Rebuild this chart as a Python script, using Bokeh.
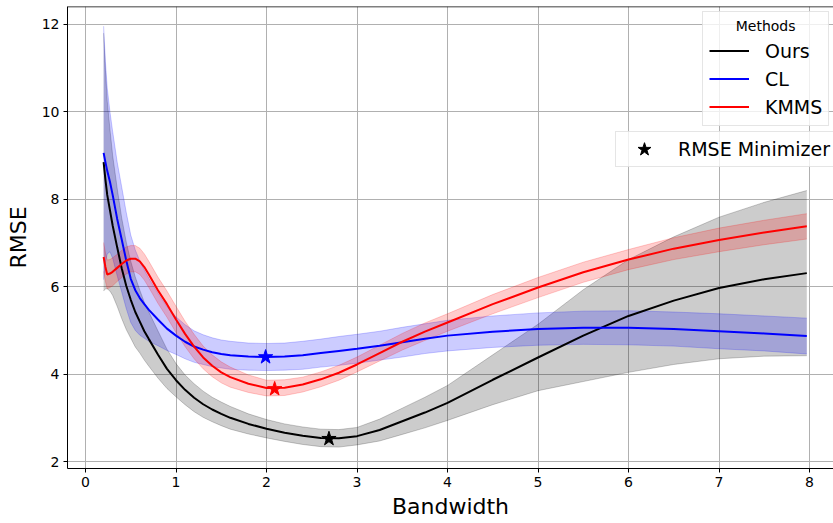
from bokeh.plotting import figure
from bokeh.models import Legend, LegendItem, Range1d, Span, FixedTicker
from bokeh.embed import file_html
from bokeh.resources import INLINE
import numpy as np

# ---------------- data ----------------
bandwidth = [0.2, 0.22, 0.24, 0.27, 0.3, 0.35, 0.4, 0.45, 0.5, 0.55, 0.6, 0.65, 0.7, 0.8, 0.9,
             1.0, 1.1, 1.2, 1.3, 1.4, 1.5, 1.6, 1.8, 2.0, 2.2, 2.4, 2.6, 2.8, 3.0, 3.25, 3.5,
             3.75, 4.0, 4.5, 5.0, 5.5, 6.0, 6.5, 7.0, 7.5, 7.97]

ours_mean = [8.85, 8.45, 8.1, 7.75, 7.4, 6.9, 6.42, 6.02, 5.7, 5.42, 5.2, 4.98, 4.8, 4.45, 4.12,
             3.86, 3.64, 3.46, 3.31, 3.19, 3.09, 3.0, 2.86, 2.75, 2.66, 2.59, 2.54, 2.53, 2.58, 2.72, 2.92,
             3.12, 3.34, 3.87, 4.38, 4.88, 5.33, 5.68, 5.97, 6.17, 6.31]
ours_std = [2.95, 2.5, 2.15, 1.85, 1.6, 1.35, 1.15, 1.0, 0.88, 0.8, 0.72, 0.66, 0.62, 0.54, 0.45,
            0.38, 0.34, 0.32, 0.3, 0.28, 0.27, 0.26, 0.23, 0.21, 0.2, 0.2, 0.2, 0.2, 0.2, 0.25, 0.3,
            0.35, 0.4, 0.57, 0.76, 1.05, 1.29, 1.46, 1.62, 1.76, 1.89]

cl_mean = [9.06, 8.85, 8.65, 8.4, 8.1, 7.55, 7.08, 6.6, 6.18, 5.92, 5.74, 5.6, 5.47, 5.25, 5.04,
           4.88, 4.74, 4.63, 4.56, 4.5, 4.46, 4.43, 4.4, 4.39, 4.4, 4.43, 4.48, 4.53, 4.58, 4.65, 4.73,
           4.81, 4.88, 4.97, 5.03, 5.06, 5.06, 5.03, 4.98, 4.93, 4.87]
cl_std = [2.9, 2.3, 1.9, 1.6, 1.45, 1.3, 1.2, 1.1, 1.0, 0.92, 0.85, 0.78, 0.72, 0.6, 0.5,
          0.43, 0.39, 0.36, 0.34, 0.33, 0.32, 0.32, 0.31, 0.31, 0.31, 0.32, 0.32, 0.33, 0.33, 0.33, 0.34,
          0.34, 0.35, 0.36, 0.37, 0.38, 0.39, 0.39, 0.4, 0.4, 0.41]

kmms_mean = [6.68, 6.45, 6.28, 6.3, 6.34, 6.43, 6.52, 6.6, 6.64, 6.64, 6.58, 6.45, 6.28, 5.92, 5.6,
             5.25, 4.92, 4.63, 4.38, 4.19, 4.04, 3.93, 3.78, 3.68, 3.69, 3.76, 3.88, 4.03, 4.22, 4.48, 4.74,
             4.97, 5.18, 5.6, 5.98, 6.33, 6.62, 6.87, 7.07, 7.24, 7.38]
kmms_std = [0.33, 0.33, 0.33, 0.32, 0.32, 0.31, 0.31, 0.31, 0.3, 0.3, 0.3, 0.3, 0.3, 0.3, 0.3,
            0.3, 0.29, 0.28, 0.26, 0.25, 0.24, 0.23, 0.2, 0.18, 0.18, 0.17, 0.17, 0.17, 0.17, 0.18, 0.19,
            0.2, 0.2, 0.22, 0.23, 0.23, 0.23, 0.25, 0.27, 0.28, 0.29]

min_bandwidth = [2.69, 1.99, 2.09]
min_rmse = [2.52, 4.39, 3.66]

method_names = ["Ours", "CL", "KMMS"]
method_colors = ["black", "blue", "red"]
x_ticks = [0, 1, 2, 3, 4, 5, 6, 7, 8]
y_ticks = [2, 4, 6, 8, 10, 12]

# ---------------- figure ----------------
FONT = "DejaVu Sans"
p = figure(width=833, height=523, output_backend="svg", toolbar_location=None,
           x_range=Range1d(-0.199, 8.265), y_range=Range1d(1.84, 12.41),
           min_border_left=67, min_border_right=0, min_border_top=6, min_border_bottom=55)
p.outline_line_color = None
p.background_fill_color = "white"
p.border_fill_color = "white"

for ax in (p.xaxis[0], p.yaxis[0]):
    ax.axis_line_color = "black"
    ax.axis_line_width = 1
    ax.major_tick_line_color = "black"
    ax.major_tick_out = 4
    ax.major_tick_in = 0
    ax.minor_tick_line_color = None
    ax.major_label_text_font = FONT
    ax.major_label_text_font_size = "14px"
    ax.major_label_text_color = "black"
    ax.axis_label_text_font = FONT
    ax.axis_label_text_font_size = "22px"
    ax.axis_label_text_font_style = "normal"
    ax.axis_label_text_color = "black"
    ax.major_label_standoff = 4

p.xaxis[0].ticker = FixedTicker(ticks=x_ticks)
p.yaxis[0].ticker = FixedTicker(ticks=y_ticks)
p.xaxis[0].axis_label = "Bandwidth"
p.yaxis[0].axis_label = "RMSE"
p.xaxis[0].axis_label_standoff = 4
p.yaxis[0].axis_label_standoff = 8

p.grid.grid_line_color = "#b0b0b0"
p.grid.grid_line_width = 1

p.add_layout(Span(location=12.41, dimension="width", line_color="black", line_width=1.5))

x = np.array(bandwidth)
series = [(ours_mean, ours_std), (cl_mean, cl_std), (kmms_mean, kmms_std)]

# bands
for (m, s), c in zip(series, method_colors):
    m = np.array(m); s = np.array(s)
    p.varea(x=x, y1=m - s, y2=m + s, fill_color=c, fill_alpha=0.2)
    p.line(x, m + s, line_color=c, line_alpha=0.2, line_width=1)
    p.line(x, m - s, line_color=c, line_alpha=0.2, line_width=1)

# mean lines
lines = []
for (m, s), c in zip(series, method_colors):
    lines.append(p.line(x, np.array(m), line_color=c, line_width=2))

# minimizer stars
stars = []
for i, c in enumerate(method_colors):
    stars.append(p.scatter([min_bandwidth[i]], [min_rmse[i]], marker="star", size=15,
                           fill_color=c, line_color=c))

# legend 1: Methods (title centred with non-breaking spaces)
leg1 = Legend(items=[LegendItem(label=n, renderers=[r]) for n, r in zip(method_names, lines)],
              location=(635, 342), title="\u00a0" * 6 + "Methods",
              title_text_font=FONT, title_text_font_size="14px",
              title_text_font_style="normal", title_text_color="black",
              title_standoff=4)
# legend 2: star
leg2 = Legend(items=[LegendItem(label="RMSE Minimizer", renderers=[stars[0]])],
              location=(548, 301))
for lg in (leg1, leg2):
    lg.label_text_font = FONT
    lg.label_text_font_size = "19px"
    lg.label_text_color = "black"
    lg.border_line_color = "#cccccc"
    lg.border_line_width = 1
    lg.background_fill_color = "white"
    lg.background_fill_alpha = 0.8
    lg.spacing = 3
leg1.glyph_width = 40
leg1.glyph_height = 25
leg1.label_height = 25
leg1.label_standoff = 16
leg1.padding = 6
leg2.glyph_width = 56
leg2.glyph_height = 34
leg2.label_height = 34
leg2.label_standoff = 6
leg2.label_width = 250
leg2.padding = 0
p.add_layout(leg1, "center")
p.add_layout(leg2, "center")

open("out.html", "w").write(file_html(p, INLINE))
